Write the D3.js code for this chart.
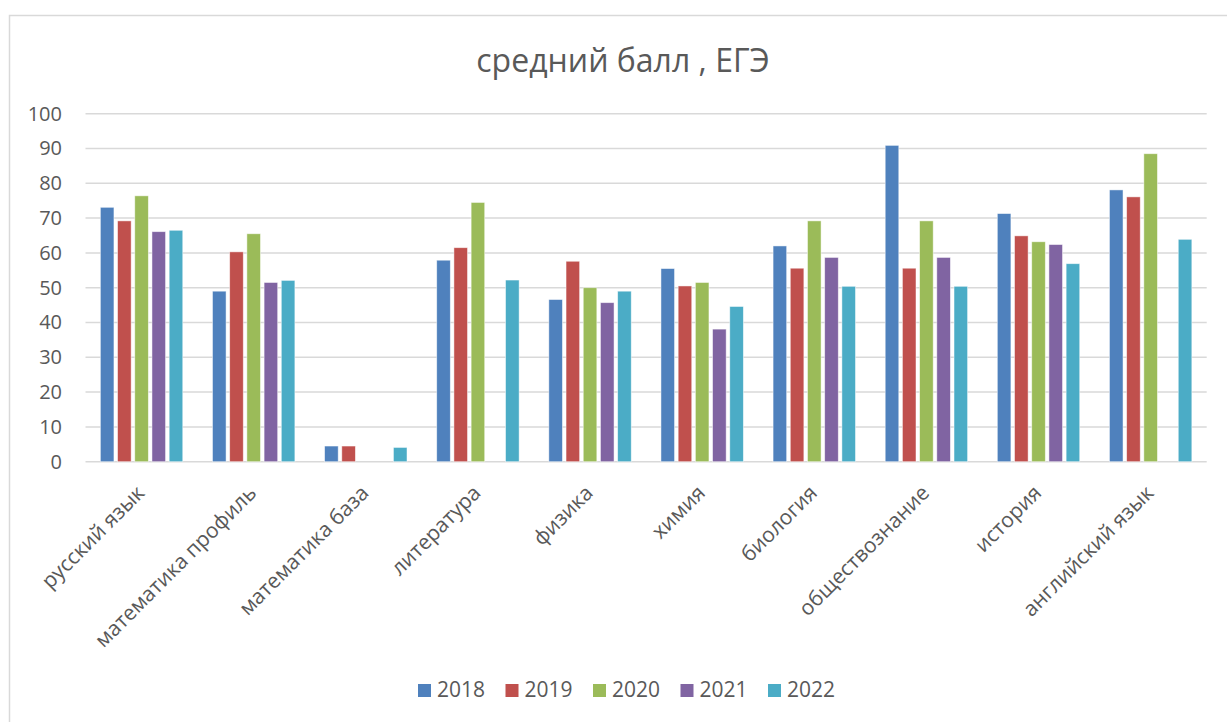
<!DOCTYPE html>
<html>
<head>
<meta charset="utf-8">
<script src="https://cdn.jsdelivr.net/npm/d3@7"></script>
<style>
  body { margin: 0; background: #fff; }
  svg text { font-family: "Open Sans", "Noto Sans", sans-serif; fill: #595959; }
</style>
</head>
<body>
<svg id="chart" width="1227" height="722"></svg>
<script>
// data
var categories = ['русский язык', 'математика профиль', 'математика база', 'литература', 'физика',
  'химия', 'биология', 'обществознание', 'история', 'английский язык'];
var years = ['2018', '2019', '2020', '2021', '2022'];
var v2018 = [73.1, 49.0, 4.5, 57.9, 46.6, 55.5, 62.0, 90.9, 71.3, 78.1];
var v2019 = [69.2, 60.3, 4.5, 61.5, 57.6, 50.5, 55.6, 55.6, 64.9, 76.1];
var v2020 = [76.4, 65.5, null, 74.5, 50.0, 51.5, 69.2, 69.2, 63.2, 88.5];
var v2021 = [66.1, 51.5, null, null, 45.7, 38.1, 58.7, 58.7, 62.4, null];
var v2022 = [66.5, 52.1, 4.1, 52.2, 49.0, 44.6, 50.4, 50.4, 56.9, 63.9];
var yTicks = [0, 10, 20, 30, 40, 50, 60, 70, 80, 90, 100];
var colors = ['#4F81BD', '#C0504D', '#9BBB59', '#8064A2', '#4BACC6'];

var series = [v2018, v2019, v2020, v2021, v2022];

var svg = d3.select('#chart');

// outer frame
svg.append('rect')
  .attr('x', 9.5).attr('y', 15.5)
  .attr('width', 1240).attr('height', 740)
  .attr('fill', 'none')
  .attr('stroke', '#d9d9d9')
  .attr('stroke-width', 1.5);

var plotLeft = 85.5, plotRight = 1206.7, plotTop = 113.7, plotBottom = 461.7;

var x = d3.scaleBand()
  .domain(categories)
  .range([plotLeft, plotRight])
  .paddingInner(0.265)
  .paddingOuter(0.1325);

var xi = d3.scaleBand()
  .domain(years)
  .range([0, x.bandwidth()])
  .paddingInner(0.21);

var y = d3.scaleLinear()
  .domain([0, 100])
  .range([plotBottom, plotTop]);

// title
svg.append('text')
  .attr('x', 623).attr('y', 72)
  .attr('text-anchor', 'middle')
  .style('font-size', '32px')
  .text('средний балл , ЕГЭ');

// gridlines
svg.append('g').selectAll('line')
  .data(yTicks)
  .enter().append('line')
  .attr('x1', plotLeft).attr('x2', plotRight)
  .attr('y1', (d) => y(d)).attr('y2', (d) => y(d))
  .attr('stroke', '#d9d9d9')
  .attr('stroke-width', 1.5);

// y axis labels
var yAxis = d3.axisLeft(y).tickValues(yTicks).tickSize(0).tickPadding(0);
var yg = svg.append('g')
  .attr('transform', 'translate(62,0)')
  .call(yAxis);
yg.select('.domain').remove();
yg.selectAll('text')
  .style('font-size', '20px')
  .attr('font-family', null)
  .attr('fill', '#595959');

// bars
var groups = svg.append('g').selectAll('g')
  .data(categories)
  .enter().append('g')
  .attr('transform', (d) => 'translate(' + x(d) + ',0)');

groups.each(function(cat, i) {
  var rows = years.map((yr, j) => ({ year: yr, value: series[j][i], c: colors[j] }))
    .filter((d) => d.value != null);
  d3.select(this).selectAll('rect')
    .data(rows)
    .enter().append('rect')
    .attr('x', (d) => xi(d.year))
    .attr('y', (d) => y(d.value))
    .attr('width', xi.bandwidth())
    .attr('height', (d) => y(0) - y(d.value))
    .attr('fill', (d) => d.c)
    .attr('stroke', '#ffffff')
    .attr('stroke-opacity', 0.6)
    .attr('stroke-width', 0.8);
});

// category labels
svg.append('g').selectAll('text')
  .data(categories)
  .enter().append('text')
  .attr('transform', (d) => 'translate(' + (x(d) + x.bandwidth() / 2 - 1) + ',489) rotate(-45)')
  .attr('text-anchor', 'end')
  .attr('dy', '0.35em')
  .style('font-size', '21px')
  .text((d) => d);

// legend
var legend = svg.append('g').selectAll('g')
  .data(years)
  .enter().append('g')
  .attr('transform', (d, i) => 'translate(' + (418 + i * 87.5) + ',684)');

legend.append('rect')
  .attr('width', 13).attr('height', 13)
  .attr('fill', (d, i) => colors[i]);

legend.append('text')
  .attr('x', 19).attr('y', 13)
  .style('font-size', '21px')
  .text((d) => d);
</script>
</body>
</html>
